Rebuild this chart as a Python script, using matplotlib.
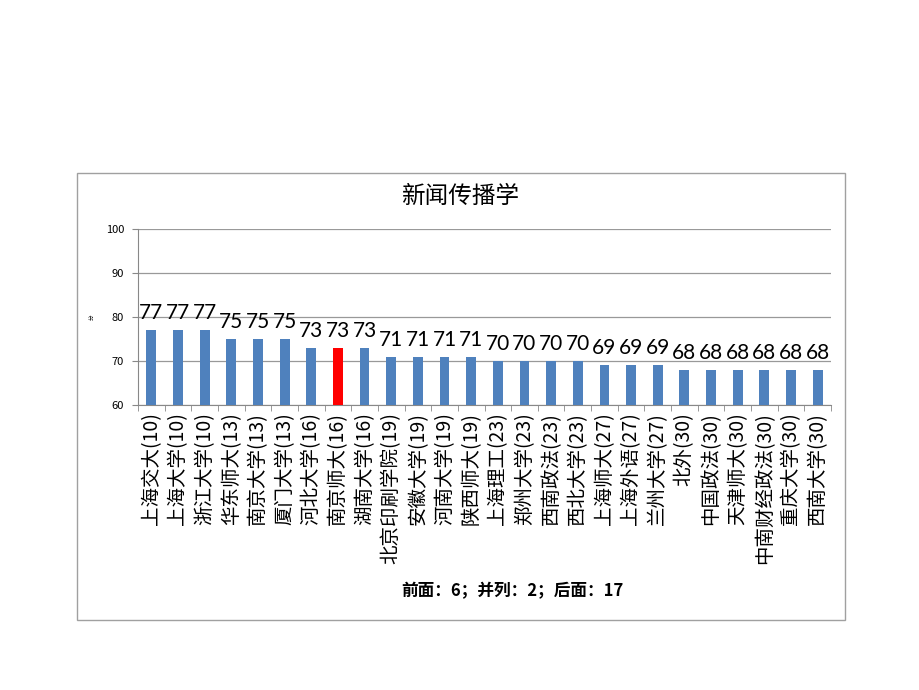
import matplotlib.pyplot as plt
from matplotlib.patches import Rectangle
import numpy as np

plt.rcParams['font.family'] = ['Noto Sans CJK SC', 'DejaVu Sans']

# 数据
schools = ['上海交大(10)', '上海大学(10)', '浙江大学(10)', '华东师大(13)', '南京大学(13)',
           '厦门大学(13)', '河北大学(16)', '南京师大(16)', '湖南大学(16)', '北京印刷学院(19)',
           '安徽大学(19)', '河南大学(19)', '陕西师大(19)', '上海理工(23)', '郑州大学(23)',
           '西南政法(23)', '西北大学(23)', '上海师大(27)', '上海外语(27)', '兰州大学(27)',
           '北外(30)', '中国政法(30)', '天津师大(30)', '中南财经政法(30)', '重庆大学(30)',
           '西南大学(30)']
scores = [77, 77, 77, 75, 75, 75, 73, 73, 73, 71, 71, 71, 71, 70, 70, 70, 70,
          69, 69, 69, 68, 68, 68, 68, 68, 68]
highlight = '南京师大(16)'

fig = plt.figure(figsize=(9.2, 6.9), dpi=100)

# 外框
fig.patches.append(Rectangle((77/920, 1-620/690), (845-77)/920, (620-173)/690,
                             transform=fig.transFigure, fill=False,
                             edgecolor='#a0a0a0', linewidth=1.0))

ax = fig.add_axes([138/920, 1-405/690, (831-138)/920, (405-229)/690])

x = np.arange(len(scores))
colors = ['#FF0000' if s == highlight else '#4F81BD' for s in schools]
ax.bar(x, scores, width=0.37, color=colors, zorder=3)

for xi, v in zip(x, scores):
    ax.text(xi, v + 1.6, str(v), ha='center', va='bottom', fontsize=15,
            family=['Lato', 'DejaVu Sans'], color='black')

ax.set_xlim(-0.5, len(scores) - 0.5)
ax.set_ylim(60, 100)
ax.set_yticks([60, 70, 80, 90, 100])
ax.tick_params(axis='y', labelsize=8, length=4, color='#888888', pad=6)
ax.grid(axis='y', color='#999999', linewidth=0.9, zorder=0)

ax.set_xticks(x)
ax.set_xticklabels(schools, rotation=90, fontsize=14, va='top')
ax.set_xticks(np.arange(-0.5, len(scores)), minor=True)
ax.tick_params(axis='x', which='major', length=0, pad=5)
ax.tick_params(axis='x', which='minor', length=4, color='#888888')

for side in ['top', 'right']:
    ax.spines[side].set_visible(False)
for side in ['left', 'bottom']:
    ax.spines[side].set_color('#888888')

ax.set_ylabel('分', fontsize=4, labelpad=8)

fig.text(460/920, 1-196/690, '新闻传播学', ha='center', va='center', fontsize=17)
fig.text(512/920, 1-591/690, '前面：6；并列：2；后面：17', ha='center', va='center',
         fontsize=12, fontweight='bold')

fig.savefig('out.png', dpi=100)
